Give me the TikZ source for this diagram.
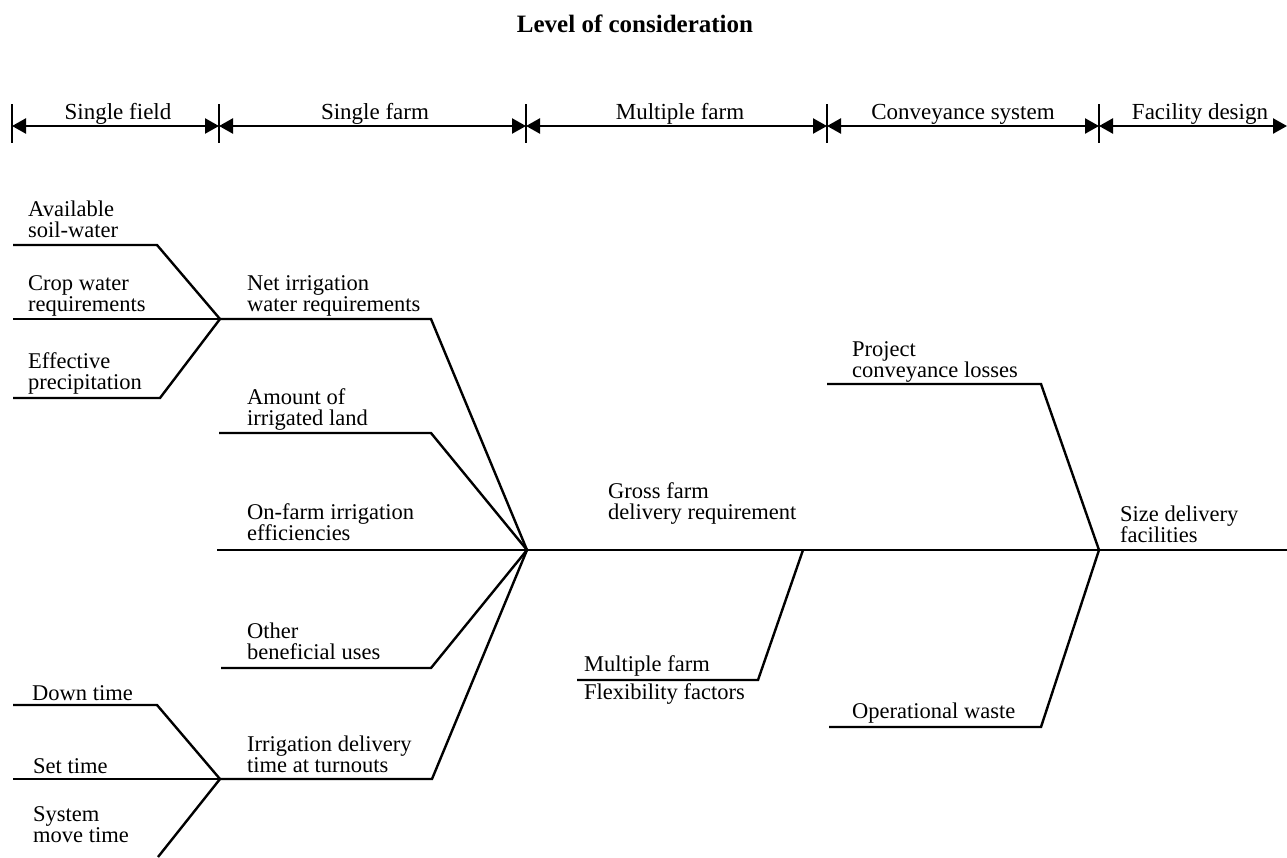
\documentclass[tikz,border=0pt]{standalone}
\usepackage{fontspec}
\setmainfont{Liberation Serif}
\usetikzlibrary{arrows.meta, positioning}

\begin{document}
\begin{tikzpicture}[
    x=1pt, y=-1pt,
    >={Triangle[length=14pt 0 0, width=15pt 0 0]},
    bone/.style={line width=2.4pt, line join=miter},
    span/.style={line width=2.4pt, <->},
    divider/.style={line width=1.1pt},
    lbl/.style={anchor=south west, inner sep=0pt, text depth=0pt, align=left, font=\fontsize{22.5}{21}\selectfont},
    level/.style={anchor=base, inner sep=0pt, font=\fontsize{23}{21}\selectfont}
]
\useasboundingbox (0,0) rectangle (1287,857);

% Title
\node[level, font=\fontsize{25}{21}\selectfont\bfseries] (title) at (635,32) {Level of consideration};

% Levels
\coordinate (t0) at (12,126);
\coordinate (t1) at (219,126);
\coordinate (t2) at (526,126);
\coordinate (t3) at (827,126);
\coordinate (t4) at (1099,126);
\coordinate (t5) at (1287,126);

\draw[span] (t0) -- (t1);
\draw[span] (t1) -- (t2);
\draw[span] (t2) -- (t3);
\draw[span] (t3) -- (t4);
\draw[span] (t4) -- (t5);

\draw[divider] (t0) ++(0,-22) -- ++(0,39);
\draw[divider] (t1) ++(0,-22) -- ++(0,39);
\draw[divider] (t2) ++(0,-22) -- ++(0,39);
\draw[divider] (t3) ++(0,-22) -- ++(0,39);
\draw[divider] (t4) ++(0,-22) -- ++(0,39);

\node[level] (field) at (118,119) {Single field};
\node[level] (farm) at (375,119) {Single farm};
\node[level] (multi) at (680,119) {Multiple farm};
\node[level] (conv) at (963,119) {Conveyance system};
\node[level] (facil) at (1200,119) {Facility design};

% Junctions
\coordinate (jfield) at (220,319);
\coordinate (jfarm) at (527,550);
\coordinate (jtime) at (220,779);
\coordinate (jmulti) at (803,550);
\coordinate (jsize) at (1099,550);

% Bone ends and bends
\coordinate (soil) at (13,245);   \coordinate (soilb) at (157,245);
\coordinate (crop) at (13,319);
\coordinate (precip) at (13,398); \coordinate (precipb) at (160,398);
\coordinate (netb) at (431,319);
\coordinate (land) at (219,433);  \coordinate (landb) at (431,433);
\coordinate (eff) at (217,550);
\coordinate (other) at (221,668); \coordinate (otherb) at (431,668);
\coordinate (delivb) at (432,779);
\coordinate (down) at (13,705);   \coordinate (downb) at (157,705);
\coordinate (set) at (13,779);
\coordinate (move) at (158,857);
\coordinate (gross) at (1287,550);
\coordinate (flex) at (577,680);  \coordinate (flexb) at (758,680);
\coordinate (loss) at (827,384);  \coordinate (lossb) at (1041,384);
\coordinate (waste) at (829,727); \coordinate (wasteb) at (1041,727);

% Bones
\draw[bone] (soil) -- (soilb) -- (jfield);
\draw[bone] (crop) -- (jfield);
\draw[bone] (precip) -- (precipb) -- (jfield);
\draw[bone] (jfield) -- (netb) -- (jfarm);
\draw[bone] (land) -- (landb) -- (jfarm);
\draw[bone] (eff) -- (jfarm);
\draw[bone] (other) -- (otherb) -- (jfarm);
\draw[bone] (jtime) -- (delivb) -- (jfarm);
\draw[bone] (down) -- (downb) -- (jtime);
\draw[bone] (set) -- (jtime);
\draw[bone] (move) -- (jtime);
\draw[bone] (jfarm) -- (gross);
\draw[bone] (flex) -- (flexb) -- (jmulti);
\draw[bone] (loss) -- (lossb) -- (jsize);
\draw[bone] (waste) -- (wasteb) -- (jsize);

% Labels
\node[lbl] (soiltxt) at (28,238) {Available\\soil-water};
\node[lbl] (croptxt) at (28,312) {Crop water\\requirements};
\node[lbl] (preciptxt) at (28,390) {Effective\\precipitation};
\node[lbl] (nettxt) at (247,312) {Net irrigation\\water requirements};
\node[lbl] (landtxt) at (247,426) {Amount of\\irrigated land};
\node[lbl] (efftxt) at (247,541) {On-farm irrigation\\efficiencies};
\node[lbl] (othertxt) at (247,660) {Other\\beneficial uses};
\node[lbl] (delivtxt) at (247,773) {Irrigation delivery\\time at turnouts};
\node[lbl] (downtxt) at (32,701) {Down time};
\node[lbl] (settxt) at (33,774) {Set time};
\node[lbl] (movetxt) at (33,843) {System\\move time};
\node[lbl] (grosstxt) at (608,520) {Gross farm\\delivery requirement};
\node[lbl] (multitxt) at (584,672) {Multiple farm};
\node[lbl] (flextxt) at (584,700) {Flexibility factors};
\node[lbl] (losstxt) at (852,378) {Project\\conveyance losses};
\node[lbl] (wastetxt) at (852,719) {Operational waste};
\node[lbl] (sizetxt) at (1120,543) {Size delivery\\facilities};

\end{tikzpicture}
\end{document}
